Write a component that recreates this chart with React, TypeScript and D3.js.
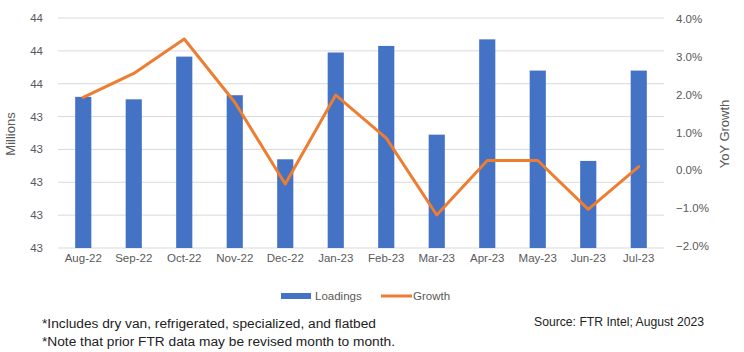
import React from "react";
import * as d3 from "d3";

const months = ["Aug-22","Sep-22","Oct-22","Nov-22","Dec-22","Jan-23","Feb-23","Mar-23","Apr-23","May-23","Jun-23","Jul-23"];
const loadings = [43.52,43.505,43.765,43.53,43.14,43.79,43.83,43.29,43.87,43.68,43.13,43.68];
const growth = [1.93,2.56,3.47,1.8,-0.36,1.99,0.85,-1.18,0.26,0.26,-1.03,0.1];
const leftTicks = [42.6,42.8,43.0,43.2,43.4,43.6,43.8,44.0];
const rightTicks = [-2,-1,0,1,2,3,4];
const footnotes = ["*Includes dry van, refrigerated, specialized, and flatbed","*Note that prior FTR data may be revised month to month."];
const source = "Source: FTR Intel; August 2023";

export default function App() {
  const W = 744, H = 352;
  const left = 58, right = 664, top = 18, bottom = 248;
  const x = d3.scaleBand<string>().domain(months).range([left, right]).paddingInner(0.68).paddingOuter(0.34);
  const yL = d3.scaleLinear().domain([42.6, 44.0]).range([bottom, top]);
  const yR = d3.scaleLinear().domain([-2, 4]).range([246, 19]);
  const line = d3.line<number>().x((_, i) => (x(months[i]) as number) + x.bandwidth() / 2).y(d => yR(d));
  const txt = "#595959";
  const font = "'Liberation Sans', Arial, sans-serif";
  return (
    <div style={{ position: "fixed", left: 0, top: 0 }}>
      <svg width={W} height={H} style={{ display: "block", background: "#fff" }} fontFamily={font}>
        {leftTicks.map(t => (
          <line key={"g" + t} x1={left} x2={right} y1={yL(t)} y2={yL(t)} stroke="#D9D9D9" strokeWidth={1} />
        ))}
        {leftTicks.map(t => (
          <text key={"l" + t} x={43} y={yL(t)} dy="0.35em" textAnchor="end" fontSize={11.5} fill={txt}>{d3.format(".0f")(t)}</text>
        ))}
        {rightTicks.map(t => (
          <text key={"r" + t} x={676} y={yR(t)} dy="0.35em" textAnchor="start" fontSize={11.5} fill={txt}>{d3.format(".1f")(t) + "%"}</text>
        ))}
        <text transform={`translate(15,134) rotate(-90)`} textAnchor="middle" fontSize={13} fill={txt}>Millions</text>
        <text transform={`translate(729,134) rotate(-90)`} textAnchor="middle" fontSize={13} fill={txt}>YoY Growth</text>
        {loadings.map((v, i) => (
          <rect key={"b" + i} x={x(months[i])} y={yL(v)} width={x.bandwidth()} height={bottom - yL(v)} fill="#4472C4" />
        ))}
        <path d={line(growth) || ""} fill="none" stroke="#ED7D31" strokeWidth={3} strokeLinejoin="round" strokeLinecap="round" />
        {months.map(m => (
          <text key={"x" + m} x={(x(m) as number) + x.bandwidth() / 2} y={262} textAnchor="middle" fontSize={11.5} fill={txt}>{m}</text>
        ))}
        <rect x={281} y={293} width={30} height={6} fill="#4472C4" />
        <text x={315} y={300} fontSize={11.5} fill={txt}>Loadings</text>
        <line x1={381} x2={412} y1={296} y2={296} stroke="#ED7D31" strokeWidth={3} />
        <text x={413} y={300} fontSize={11.5} fill={txt}>Growth</text>
        {footnotes.map((f, i) => (
          <text key={"f" + i} x={42} y={328 + i * 18} fontSize={12.5} fill="#222" textLength={i === 0 ? 334 : 353} lengthAdjust="spacingAndGlyphs">{f}</text>
        ))}
        <text x={534} y={326} fontSize={12.5} fill="#222" textLength={170} lengthAdjust="spacingAndGlyphs">{source}</text>
      </svg>
    </div>
  );
}
